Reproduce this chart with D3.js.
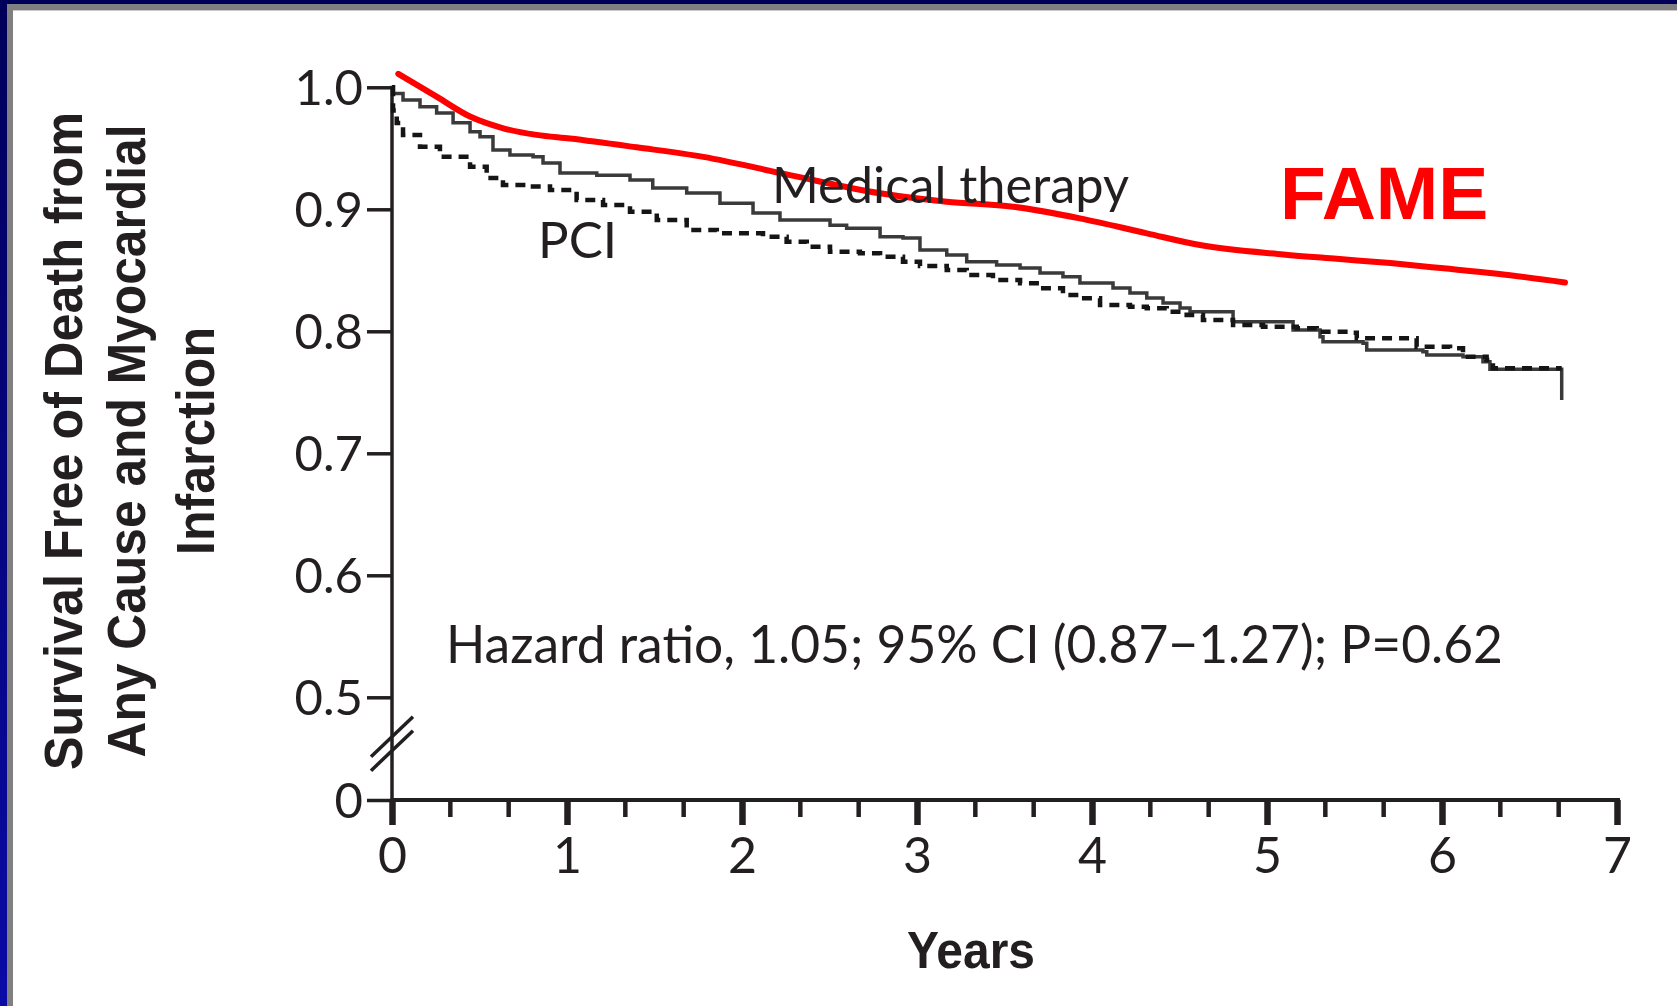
<!DOCTYPE html>
<html>
<head>
<meta charset="utf-8">
<script src="https://cdn.jsdelivr.net/npm/d3@7"></script>
<style>
  html, body { margin: 0; padding: 0; background: #ffffff; }
  svg { display: block; }
</style>
</head>
<body>
<svg id="chart" width="1677" height="1006"></svg>
<script>
// Kaplan–Meier survival free of death and MI, with the FAME estimate overlaid
const xTicks = [0, 1, 2, 3, 4, 5, 6, 7];
const xMinorTicks = [1/3, 2/3, 4/3, 5/3, 7/3, 8/3, 10/3, 11/3, 13/3, 14/3, 16/3, 17/3, 19/3, 20/3];
const yTicks = [0, 0.5, 0.6, 0.7, 0.8, 0.9, 1.0];
const yTickLabels = ["0", "0.5", "0.6", "0.7", "0.8", "0.9", "1.0"];

const medYears = [0, 0.007, 0.063, 0.16, 0.255, 0.349, 0.446, 0.503, 0.577, 0.674, 0.806, 0.863, 0.96, 1.17, 1.36, 1.49, 1.684, 1.874, 2.063, 2.217, 2.503, 2.598, 2.789, 2.92, 3.017, 3.17, 3.284, 3.455, 3.589, 3.703, 3.834, 3.931, 4.12, 4.217, 4.313, 4.406, 4.503, 4.56, 4.806, 5.149, 5.303, 5.32, 5.549, 5.57, 5.891, 5.913, 6.12, 6.234, 6.274, 6.684, 6.684];
const medSurvival = [1.0, 0.995, 0.9896, 0.984, 0.979, 0.971, 0.9636, 0.9595, 0.9486, 0.9445, 0.943, 0.938, 0.9298, 0.928, 0.924, 0.9175, 0.9134, 0.905, 0.897, 0.8912, 0.887, 0.8844, 0.8775, 0.8765, 0.8667, 0.8625, 0.857, 0.8543, 0.8519, 0.8478, 0.8448, 0.8396, 0.8355, 0.8314, 0.8273, 0.8232, 0.8191, 0.816, 0.8079, 0.801, 0.7956, 0.7915, 0.7902, 0.7847, 0.7833, 0.7806, 0.7792, 0.7751, 0.7689, 0.7689, 0.7437];

const pciYears = [0, 0.006, 0.027, 0.063, 0.16, 0.274, 0.446, 0.541, 0.634, 0.789, 0.903, 1.055, 1.206, 1.36, 1.513, 1.684, 1.856, 2.12, 2.255, 2.37, 2.503, 2.674, 2.789, 2.92, 3.017, 3.17, 3.284, 3.434, 3.589, 3.703, 3.834, 3.931, 4.046, 4.217, 4.313, 4.427, 4.541, 4.634, 4.806, 4.977, 5.17, 5.284, 5.474, 5.513, 5.817, 5.855, 6.046, 6.12, 6.255, 6.291, 6.684];
const pciSurvival = [1.0, 0.981, 0.9707, 0.961, 0.9513, 0.9431, 0.9349, 0.9257, 0.92, 0.9186, 0.9158, 0.9076, 0.9035, 0.898, 0.8912, 0.883, 0.8803, 0.8775, 0.8734, 0.8693, 0.8652, 0.8639, 0.8611, 0.857, 0.8535, 0.8502, 0.8461, 0.842, 0.8393, 0.8352, 0.8298, 0.827, 0.8216, 0.8202, 0.8189, 0.816, 0.8133, 0.8093, 0.8052, 0.8038, 0.8025, 0.7997, 0.7989, 0.7943, 0.7943, 0.7874, 0.7861, 0.7792, 0.7765, 0.7697, 0.7697];

const fameYears = [0.036, 0.255, 0.446, 0.636, 0.827, 1.017, 1.398, 1.779, 2.274, 2.789, 3.17, 3.549, 3.931, 4.313, 4.617, 5.094, 5.399, 5.705, 6.010, 6.316, 6.703];
const fameSurvival = [1.011, 0.9923, 0.976, 0.9664, 0.961, 0.958, 0.9508, 0.943, 0.928, 0.9131, 0.9062, 0.9021, 0.8926, 0.8803, 0.8707, 0.863, 0.8594, 0.8559, 0.8516, 0.8471, 0.840];

const svg = d3.select("#chart");
const W = 1677, H = 1006;
const ink = "#231f20";
const font = "Lato, 'Open Sans', sans-serif";
const boldFont = "'Liberation Sans', Arial, sans-serif";

// slide frame: navy edge and grey bevel on the top and left
const defs = svg.append("defs");
const grad = defs.append("linearGradient").attr("id", "navy").attr("x1", 0).attr("y1", 0).attr("x2", 0).attr("y2", 1);
grad.append("stop").attr("offset", 0).attr("stop-color", "#00005a");
grad.append("stop").attr("offset", 1).attr("stop-color", "#0a0aa6");
svg.append("rect").attr("width", W).attr("height", H).attr("fill", "#ffffff");
svg.append("rect").attr("x", 0).attr("y", 0).attr("width", W).attr("height", 4).attr("fill", "#00005a");
svg.append("rect").attr("x", 7).attr("y", 4).attr("width", W - 7).attr("height", 6).attr("fill", "#808080");
svg.append("rect").attr("x", 13).attr("y", 10).attr("width", W - 13).attr("height", 1).attr("fill", "#c8c8c8");
svg.append("rect").attr("x", 0).attr("y", 0).attr("width", 7).attr("height", H).attr("fill", "url(#navy)");
svg.append("rect").attr("x", 7).attr("y", 4).attr("width", 6).attr("height", H - 4).attr("fill", "#808080");

// scales: the y axis is broken between 0 and 0.5
const x = d3.scaleLinear().domain([0, 7]).range([392, 1617]);
const y = d3.scaleLinear().domain([0, 0.5, 1.0]).range([800, 697.3, 87.3]);

const g = svg.append("g");

// y axis
const yAxis = g.append("g").attr("transform", `translate(${x(0)},0)`)
  .call(d3.axisLeft(y).tickValues(yTicks).tickSize(25).tickPadding(4)
    .tickFormat((d, i) => yTickLabels[i]));
yAxis.select(".domain").remove();
yAxis.selectAll(".tick line").attr("stroke", ink).attr("stroke-width", 3.5);
yAxis.selectAll(".tick text").attr("fill", ink).attr("font-family", font).attr("font-size", 49)
  .attr("dy", "0.36em");
yAxis.append("line").attr("x1", 0).attr("x2", 0).attr("y1", y(1.0) - 1.5).attr("y2", y(0))
  .attr("stroke", ink).attr("stroke-width", 3.5);

// axis break marks
const breakMid = (y(0) + y(0.5)) / 2 - 5;
[-7, 7].forEach(off => {
  g.append("line")
    .attr("x1", x(0) - 21).attr("y1", breakMid + off + 20)
    .attr("x2", x(0) + 21).attr("y2", breakMid + off - 20)
    .attr("stroke", ink).attr("stroke-width", 3.5);
});

// x axis
const xAxis = g.append("g").attr("transform", `translate(0,${y(0)})`)
  .call(d3.axisBottom(x).tickValues(xTicks).tickSize(25).tickPadding(12).tickFormat(d3.format("d")));
xAxis.select(".domain").remove();
xAxis.selectAll(".tick line").attr("stroke", ink).attr("stroke-width", 6.5);
xAxis.selectAll(".tick text").attr("fill", ink).attr("font-family", font).attr("font-size", 50);
xAxis.selectAll(".minor").data(xMinorTicks).enter().append("line").attr("class", "minor")
  .attr("x1", d => x(d)).attr("x2", d => x(d)).attr("y1", 0).attr("y2", 17)
  .attr("stroke", ink).attr("stroke-width", 4.5);
xAxis.append("line").attr("x1", x(0) - 1.5).attr("x2", x(7) + 3).attr("y1", 0).attr("y2", 0)
  .attr("stroke", ink).attr("stroke-width", 4);

// survival curves
const step = d3.line().x(d => x(d[0])).y(d => y(d[1])).curve(d3.curveStepAfter);
const smooth = d3.line().x(d => x(d[0])).y(d => y(d[1])).curve(d3.curveMonotoneX);

g.append("path").datum(d3.zip(medYears, medSurvival))
  .attr("d", step).attr("fill", "none").attr("stroke", "#3a3a3a").attr("stroke-width", 3.5);
g.append("path").datum(d3.zip(pciYears, pciSurvival))
  .attr("d", step).attr("fill", "none").attr("stroke", "#151515").attr("stroke-width", 4.5)
  .attr("stroke-dasharray", "10,7");
g.append("path").datum(d3.zip(fameYears, fameSurvival))
  .attr("d", smooth).attr("fill", "none").attr("stroke", "#ff0000").attr("stroke-width", 6)
  .attr("stroke-linecap", "round");

// labels
g.append("text").attr("x", 772).attr("y", 203).attr("font-family", font).attr("font-size", 50.5)
  .attr("fill", ink).text("Medical therapy");
g.append("text").attr("x", 538).attr("y", 258).attr("font-family", font).attr("font-size", 51)
  .attr("fill", ink).text("PCI");
g.append("text").attr("x", 446).attr("y", 663).attr("font-family", font).attr("font-size", 51.5)
  .attr("fill", ink).text("Hazard ratio, 1.05; 95% CI (0.87\u22121.27); P=0.62");
g.append("text").attr("x", 1280).attr("y", 219).attr("font-family", boldFont).attr("font-weight", "bold")
  .attr("font-size", 75).attr("fill", "#ff0000").text("FAME");

// axis titles
g.append("text").attr("x", 971).attr("y", 968).attr("text-anchor", "middle")
  .attr("font-family", boldFont).attr("font-weight", "bold").attr("font-size", 52)
  .attr("textLength", 128).attr("lengthAdjust", "spacingAndGlyphs")
  .attr("fill", ink).text("Years");

const titleLines = [
  { text: "Survival Free of Death from", base: 82, len: 658 },
  { text: "Any Cause and Myocardial", base: 145, len: 633 },
  { text: "Infarction", base: 214, len: 228 }
];
const yTitle = g.append("g").attr("transform", "translate(0,441) rotate(-90)");
yTitle.selectAll("text").data(titleLines).enter().append("text")
  .attr("x", 0).attr("y", d => d.base).attr("text-anchor", "middle")
  .attr("font-family", boldFont).attr("font-weight", "bold").attr("font-size", 53)
  .attr("textLength", d => d.len).attr("lengthAdjust", "spacingAndGlyphs")
  .attr("fill", ink).text(d => d.text);
</script>
</body>
</html>
